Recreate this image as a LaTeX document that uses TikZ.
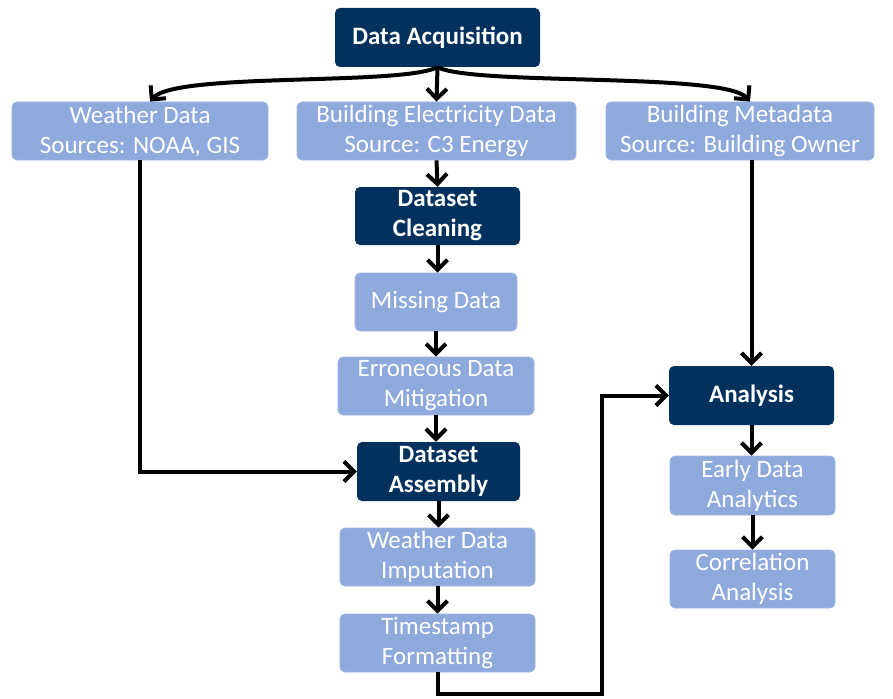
\documentclass[tikz,border=0pt]{standalone}
\usepackage{fontspec}
\setmainfont{Carlito}
\usetikzlibrary{arrows.meta,calc}
\definecolor{navy}{HTML}{03315E}
\definecolor{lightbl}{HTML}{8EA9DB}
\tikzset{
  box/.style={rounded corners=5pt, inner sep=0pt, align=center, text=white,
    font=\fontsize{25}{30}\selectfont},
  darkbox/.style={box, fill=navy, font=\bfseries\fontsize{25}{30}\selectfont},
  lightbox/.style={box, fill=lightbl, draw=lightbl!85!white, line width=0.8pt},
  arr/.style={line width=4pt, -{Straight Barb[length=10pt,width=20pt,line width=4pt]}}
}
\begin{document}
\begin{tikzpicture}[x=1pt,y=-1pt]
\useasboundingbox (0,0) rectangle (893,698);
\node[darkbox, minimum width=205pt, minimum height=59pt] (da) at (437.5,37.5) {Data Acquisition};
\node[lightbox, minimum width=256pt, minimum height=58pt] (wd) at (140,131) {Weather Data\\Sources: NOAA, GIS};
\node[lightbox, minimum width=279pt, minimum height=58pt] (be) at (436.5,131) {Building Electricity Data\\Source: C3 Energy};
\node[lightbox, minimum width=268pt, minimum height=58pt] (bm) at (740,131) {Building Metadata\\Source: Building Owner};
\node[darkbox, minimum width=165pt, minimum height=58pt] (dc) at (437.5,216) {Dataset\\Cleaning};
\node[lightbox, minimum width=162pt, minimum height=58pt] (md) at (436,302) {Missing Data};
\node[lightbox, minimum width=196pt, minimum height=58pt] (ed) at (436,386) {Erroneous Data\\Mitigation};
\node[darkbox, minimum width=163pt, minimum height=59pt] (as) at (438.5,471.5) {Dataset\\Assembly};
\node[lightbox, minimum width=195pt, minimum height=58pt] (wi) at (437.5,557) {Weather Data\\Imputation};
\node[lightbox, minimum width=195pt, minimum height=58pt] (tf) at (437.5,643) {Timestamp\\Formatting};
\node[darkbox, minimum width=165pt, minimum height=59pt] (an) at (751.5,395.5) {Analysis};
\node[lightbox, minimum width=165pt, minimum height=59pt] (ea) at (752.5,485.5) {Early Data\\Analytics};
\node[lightbox, minimum width=165pt, minimum height=58pt] (ca) at (752.5,579) {Correlation\\Analysis};
\coordinate (c1) at (602,694);
% connectors
\draw[arr] (da.south) .. controls (400,86) and (175,72) .. ([xshift=10pt]wd.north);
\draw[arr] (da.south) .. controls (475,86) and (725,72) .. ([xshift=10pt]bm.north);
\draw[arr] (da.south) -- (be.north);
\draw[arr] (be.south) -- (dc.north);
\draw[arr] (dc.south) -- (md.north -| dc.south);
\draw[arr] (md.south) -- (ed.north);
\draw[arr] (ed.south) -- (as.north -| ed.south);
\draw[arr] (wd.south) |- (as.west);
\draw[arr] (as.south) -- (wi.north -| as.south);
\draw[arr] (wi.south) -- (tf.north);
\draw[arr] (an.north |- bm.south) -- (an.north);
\draw[arr] (tf.south) |- (c1) |- (an.west);
\draw[arr] (an.south) -- (ea.north -| an.south);
\draw[arr] (ea.south) -- (ca.north);
\end{tikzpicture}
\end{document}
